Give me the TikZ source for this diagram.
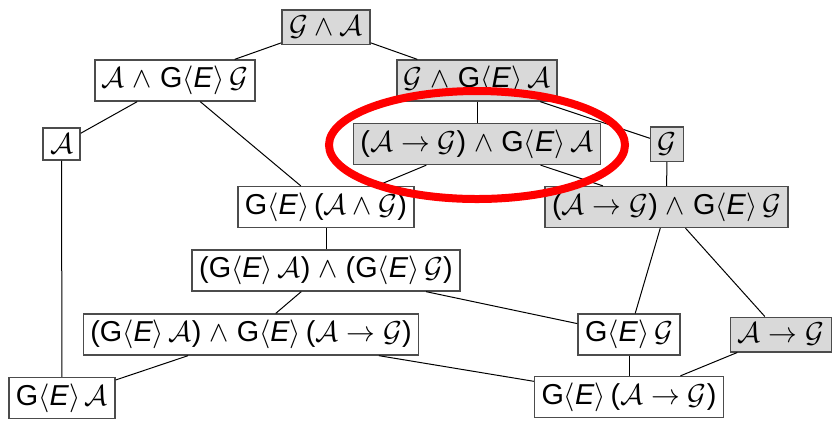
\documentclass[tikz,border=0pt]{standalone}
\usepackage{fontspec}
\setmainfont{Liberation Sans}
\usetikzlibrary{positioning}
\newcommand{\calA}{\ensuremath{\mathcal{A}}}
\newcommand{\calG}{\ensuremath{\mathcal{G}}}
\newcommand{\Gdiam}{G$\langle$\textit{E}$\rangle$\,}
\tikzset{
    formula/.style={draw=black!70, line width=0.75pt, inner xsep=3.5pt, inner ysep=3pt,
        font=\fontsize{14.4}{17}\selectfont},
    shaded/.style={formula, fill=black!15},
    link/.style={line width=0.5pt}
}

\begin{document}
\begin{tikzpicture}[x=0.5pt, y=-0.5pt]
\useasboundingbox (0,0) rectangle (832,420);
\node[shaded] (ga) at (326,27) {$\mathcal{G}\wedge\mathcal{A}$};
\node[formula] (ageg) at (175,80.5) {\calA{} $\wedge$ \Gdiam\calG};
\node[shaded] (ggea) at (477,80.5) {\calG{} $\wedge$ \Gdiam\calA};
\node[formula] (a) at (61.5,144) {\calA};
\node[shaded] (impgea) at (477,144) {($\mathcal{A}\rightarrow\mathcal{G}$) $\wedge$ \Gdiam\calA};
\node[shaded] (g) at (667,144) {\calG};
\node[formula] (geag) at (326,207) {\Gdiam($\mathcal{A}\wedge\mathcal{G}$)};
\node[shaded] (impgeg) at (666.5,207) {($\mathcal{A}\rightarrow\mathcal{G}$) $\wedge$ \Gdiam\calG};
\node[formula] (both) at (326,270.5) {(\Gdiam\calA) $\wedge$ (\Gdiam\calG)};
\node[formula] (geaimp) at (251,334.5) {(\Gdiam\calA) $\wedge$ \Gdiam($\mathcal{A}\rightarrow\mathcal{G}$)};
\node[formula] (geg) at (629,334.5) {\Gdiam\calG};
\node[shaded] (imp) at (781,334.5) {$\mathcal{A}\rightarrow\mathcal{G}$};
\node[formula] (gea) at (62,398) {\Gdiam\calA};
\node[formula] (geimp) at (629,397) {\Gdiam($\mathcal{A}\rightarrow\mathcal{G}$)};
% edges of the lattice
\draw[link] (ga) -- (ageg);
\draw[link] (ga) -- (ggea);
\draw[link] (ageg) -- (a);
\draw[link] (ageg) -- (geag);
\draw[link] (ggea) -- (impgea);
\draw[link] (ggea) -- (g);
\draw[link] (impgea) -- (geag);
\draw[link] (impgea) -- (impgeg);
\draw[link] (g) -- (impgeg);
\draw[link] (a) -- (gea);
\draw[link] (geag) -- (both);
\draw[link] (both) -- (geaimp);
\draw[link] (both) -- (geg);
\draw[link] (impgeg) -- (geg);
\draw[link] (impgeg) -- (imp);
\draw[link] (geaimp) -- (gea);
\draw[link] (geaimp) -- (geimp);
\draw[link] (geg) -- (geimp);
\draw[link] (imp) -- (geimp);
% highlight
\draw[red, line width=4pt] (477,145) ellipse [x radius=74pt, y radius=27pt];
\end{tikzpicture}
\end{document}
